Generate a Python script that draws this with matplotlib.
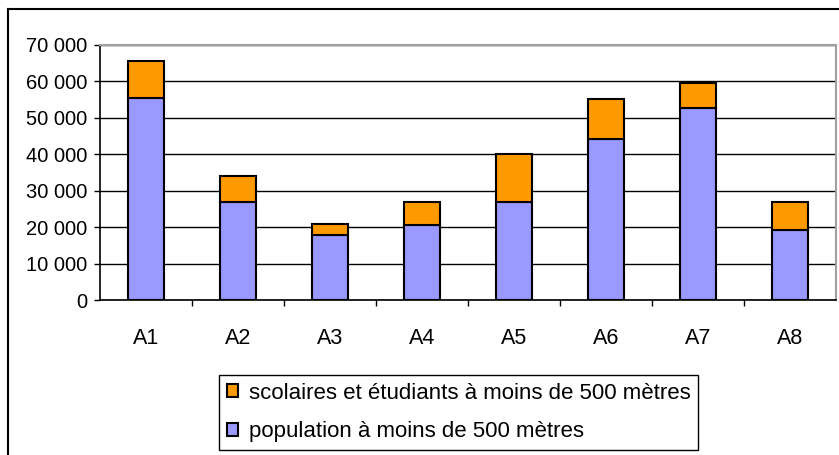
import matplotlib.pyplot as plt
from matplotlib.lines import Line2D
from matplotlib.ticker import FuncFormatter, MultipleLocator, FixedLocator

plt.rcParams['font.family'] = ['Liberation Sans', 'DejaVu Sans']

categories = ['A1', 'A2', 'A3', 'A4', 'A5', 'A6', 'A7', 'A8']
population = [55400, 27000, 17800, 20600, 26900, 44300, 52600, 19200]
scolaires = [10200, 7000, 3200, 6400, 13200, 10800, 6900, 7800]

lab_scol = 'scolaires et étudiants à moins de 500 mètres'
lab_pop = 'population à moins de 500 mètres'

fig = plt.figure(figsize=(8.39, 4.55), dpi=100)
ax = fig.add_axes([100/839, 155/455, 736/839, 255/455])

x = range(len(categories))
b_pop = ax.bar(x, population, width=0.4, color='#9999FF', edgecolor='black',
               linewidth=1.5, label=lab_pop, zorder=3)
b_scol = ax.bar(x, scolaires, bottom=population, width=0.4, color='#FF9900',
                edgecolor='black', linewidth=1.5, label=lab_scol, zorder=3)

ax.set_xlim(-0.5, len(categories) - 0.5)
ax.set_ylim(0, 70000)
ax.yaxis.set_major_locator(MultipleLocator(10000))
ax.yaxis.set_major_formatter(FuncFormatter(lambda v, p: f'{int(v):,}'.replace(',', ' ')))

# category labels centred, ticks between categories
ax.set_xticks(list(x))
ax.set_xticklabels(categories)
ax.xaxis.set_minor_locator(FixedLocator([i + 0.5 for i in range(len(categories) - 1)]))
ax.tick_params(axis='x', which='major', length=0, pad=20, labelsize=15.5)
ax.tick_params(axis='x', which='minor', length=4, width=1, direction='out')
ax.tick_params(axis='y', length=4, width=1, pad=5, labelsize=14.5, direction='out')

ax.yaxis.grid(True, color='black', linewidth=1)
ax.set_axisbelow(True)
ax.get_ygridlines()[-1].set_visible(False)

for side in ['left', 'bottom']:
    ax.spines[side].set_color('black')
    ax.spines[side].set_linewidth(1.2)
for side in ['top', 'right']:
    ax.spines[side].set_color('#a0a0a0')
    ax.spines[side].set_linewidth(1.5)

leg = fig.legend([b_scol, b_pop], [lab_scol, lab_pop], loc='center',
                 bbox_to_anchor=(0.5465, 0.0934), fontsize=16,
                 handlelength=0.5, handleheight=0.5, handletextpad=0.5,
                 labelspacing=0.8, borderpad=0.35, borderaxespad=0,
                 fancybox=False, edgecolor='black', framealpha=1)
leg.get_frame().set_linewidth(1)

# outer chart frame
fig.add_artist(Line2D([8/839, 8/839], [0, 1 - 9/455], color='black', linewidth=1.5))
fig.add_artist(Line2D([8/839, 1], [1 - 9/455, 1 - 9/455], color='black', linewidth=1.5))

fig.savefig('out.png', dpi=100)
